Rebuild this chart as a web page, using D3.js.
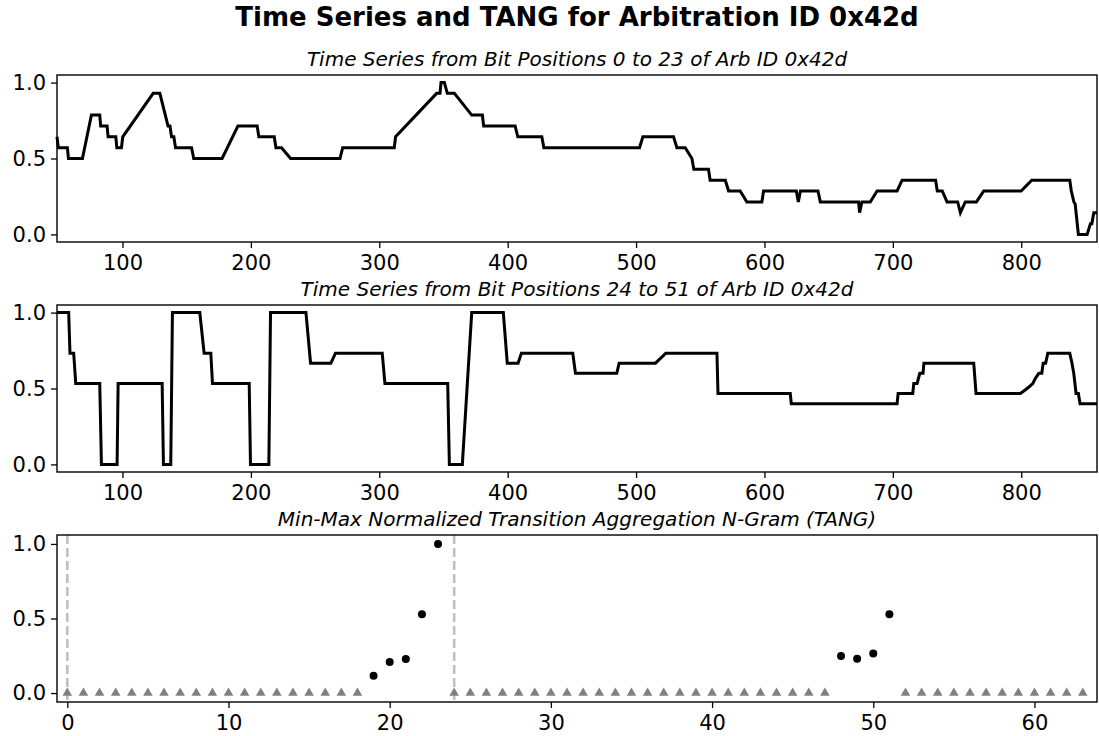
<!DOCTYPE html>
<html>
<head>
<meta charset="utf-8">
<script src="https://cdn.jsdelivr.net/npm/d3@7"></script>
<style>
  body { margin: 0; background: #fff; }
  text { font-family: "DejaVu Sans", sans-serif; fill: #000; }
</style>
</head>
<body>
<div id="chart"></div>
<script>
const width = 1099;
const height = 736;

// Time series, bits 0..23 (breakpoints)
const seriesA = [
  [49, 0.643], [50, 0.571], [57.1, 0.571], [57.9, 0.5], [68.8, 0.5], [75.8, 0.786], [82.3, 0.786],
  [83, 0.714], [88, 0.714], [88.8, 0.643], [94.8, 0.643], [95.6, 0.571], [99.2, 0.571], [100.2, 0.643],
  [123.9, 0.929], [129.1, 0.929], [135.5, 0.714], [137, 0.714], [138.2, 0.643], [140, 0.643], [141.3, 0.571],
  [153.8, 0.571], [155.5, 0.5], [177.6, 0.5], [189.9, 0.714], [204.9, 0.714], [206.2, 0.643], [218.2, 0.643],
  [219.5, 0.571], [223.9, 0.571], [230.9, 0.5], [269.4, 0.5], [271.5, 0.571], [311.7, 0.571], [312.7, 0.643],
  [344.7, 0.929], [347.3, 0.929], [348.1, 1.0], [350.7, 1.0], [353, 0.929], [358.5, 0.929], [372, 0.786],
  [380.3, 0.786], [381.3, 0.714], [405.8, 0.714], [407.9, 0.643], [426.6, 0.643], [428.2, 0.571],
  [502.7, 0.571], [505.3, 0.643], [529.2, 0.643], [531.8, 0.571], [538.3, 0.571], [543.5, 0.5], [545, 0.429],
  [556.4, 0.429], [557.7, 0.357], [569.5, 0.357], [572.1, 0.286], [581.1, 0.286], [586.3, 0.214], [598, 0.214],
  [599.3, 0.286], [624.8, 0.286], [626.4, 0.214], [628, 0.286], [641.7, 0.286], [643.5, 0.214], [673.3, 0.214],
  [674.1, 0.143], [675.9, 0.214], [682.4, 0.214], [687.7, 0.286], [703.3, 0.286], [707.2, 0.357], [733.3, 0.357],
  [734.6, 0.286], [738.5, 0.286], [742.2, 0.214], [750.5, 0.214], [752.6, 0.143], [756.4, 0.214], [765.1, 0.214],
  [770.8, 0.286], [799.9, 0.286], [808.2, 0.357], [837.8, 0.357], [839, 0.286], [841, 0.214], [842, 0.2],
  [844.5, 0], [851.3, 0], [853.9, 0.071], [855, 0.071], [856.5, 0.143], [859, 0.143]
];

// Time series, bits 24..51
const seriesB = [
  [49, 1.0], [58.1, 1.0], [59.1, 0.733], [62, 0.733], [63.6, 0.533], [82.3, 0.533], [83.6, 0], [95.8, 0],
  [96.6, 0.533], [130.9, 0.533], [131.9, 0], [137.6, 0], [138.9, 1.0], [160.2, 1.0], [163.6, 0.733],
  [168.8, 0.733], [170.1, 0.533], [198.7, 0.533], [199.7, 0], [214, 0], [215.3, 1.0], [242.9, 1.0],
  [246.5, 0.667], [262.3, 0.667], [265.9, 0.733], [302.3, 0.733], [304.4, 0.533], [353.3, 0.533],
  [354.6, 0], [364.7, 0], [372, 1.0], [396.6, 1.0], [399.7, 0.667], [408.1, 0.667], [410.7, 0.733],
  [450.7, 0.733], [452.8, 0.6], [485, 0.6], [486.8, 0.667], [515.1, 0.667], [523.2, 0.733], [563, 0.733],
  [563.8, 0.467], [620.1, 0.467], [620.9, 0.4], [703.3, 0.4], [704.1, 0.467], [715.5, 0.467], [716.3, 0.533],
  [718.9, 0.533], [721, 0.6], [723.5, 0.6], [724.2, 0.667], [763, 0.667], [764.8, 0.467], [799.4, 0.467],
  [803, 0.49], [806, 0.51], [809, 0.533], [811, 0.567], [813.7, 0.6], [816, 0.6], [817.1, 0.667],
  [819, 0.667], [820.7, 0.733], [837.8, 0.733], [839.5, 0.667], [840.9, 0.6], [842.7, 0.467],
  [844.5, 0.467], [845.8, 0.4], [859, 0.4]
];

// TANG: non-zero entries (dots) and zero entries (triangles)
const tangDotIdx = [19, 20, 21, 22, 23, 48, 49, 50, 51];
const tangDotVal = [0.116, 0.208, 0.228, 0.528, 1.0, 0.248, 0.23, 0.266, 0.528];
const tangZeroIdx = d3.range(0, 19).concat(d3.range(24, 48), d3.range(52, 64));
const boundaries = [0, 24];

const tsTicks = [100, 200, 300, 400, 500, 600, 700, 800];
const tangTicks = [0, 10, 20, 30, 40, 50, 60];
const yTicks = [0, 0.5, 1.0];

const titles = [
  "Time Series from Bit Positions 0 to 23 of Arb ID 0x42d",
  "Time Series from Bit Positions 24 to 51 of Arb ID 0x42d",
  "Min-Max Normalized Transition Aggregation N-Gram (TANG)"
];

const left = 57, right = 1097, panelH = 167;
const panelTops = [75, 305, 535];

const svg = d3.select("#chart")
    .append("svg")
    .attr("width", width)
    .attr("height", height);

svg.append("rect").attr("width", width).attr("height", height).attr("fill", "#fff");

svg.append("text")
    .attr("x", (left + right) / 2)
    .attr("y", 26)
    .attr("text-anchor", "middle")
    .attr("font-size", 26)
    .attr("font-weight", "bold")
    .text("Time Series and TANG for Arbitration ID 0x42d");

function makePanel(i, xDomain, xTicks, yDomain) {
    const top = panelTops[i];
    const g = svg.append("g");
    const x = d3.scaleLinear().domain(xDomain).range([left, right]);
    const y = d3.scaleLinear().domain(yDomain).range([top + panelH, top]);

    const xAxis = g.append("g")
        .attr("transform", `translate(0,${top + panelH})`)
        .call(d3.axisBottom(x).tickValues(xTicks).tickSize(6).tickPadding(7).tickFormat(d3.format("d")));
    const yAxis = g.append("g")
        .attr("transform", `translate(${left},0)`)
        .call(d3.axisLeft(y).tickValues(yTicks).tickSize(6).tickPadding(5).tickFormat(d3.format(".1f")));
    [xAxis, yAxis].forEach(a => {
        a.select(".domain").remove();
        a.selectAll("line").attr("stroke", "#000").attr("stroke-width", 1.3);
        a.selectAll("text").attr("font-size", 21).attr("fill", "#000")
            .style("font-family", "'DejaVu Sans', sans-serif");
    });

    g.append("text")
        .attr("x", (left + right) / 2)
        .attr("y", top - 9)
        .attr("text-anchor", "middle")
        .attr("font-size", 20)
        .attr("font-style", "italic")
        .text(titles[i]);

    return { g, x, y, top };
}

function frame(p) {
    p.g.append("rect")
        .attr("x", left).attr("y", p.top)
        .attr("width", right - left).attr("height", panelH)
        .attr("fill", "none")
        .attr("stroke", "#000")
        .attr("stroke-width", 1.4);
}

[seriesA, seriesB].forEach((data, i) => {
    const p = makePanel(i, [49, 859], tsTicks, [-0.05, 1.05]);
    const line = d3.line().x(d => p.x(d[0])).y(d => p.y(d[1]));
    p.g.append("path")
        .datum(data)
        .attr("d", line)
        .attr("fill", "none")
        .attr("stroke", "#000")
        .attr("stroke-width", 3)
        .attr("stroke-linejoin", "miter");
    frame(p);
});

// TANG panel
const pt = makePanel(2, [-0.64, 63.88], tangTicks, [-0.06, 1.06]);

pt.g.selectAll(".boundary")
    .data(boundaries)
    .enter()
    .append("line")
    .attr("class", "boundary")
    .attr("x1", d => pt.x(d)).attr("x2", d => pt.x(d))
    .attr("y1", pt.top).attr("y2", pt.top + panelH)
    .attr("stroke", "#c0c0c0")
    .attr("stroke-width", 2.6)
    .attr("stroke-dasharray", "9,4");

const tri = d3.symbol().type(d3.symbolTriangle).size(40);
pt.g.selectAll(".zero")
    .data(tangZeroIdx)
    .enter()
    .append("path")
    .attr("class", "zero")
    .attr("d", tri)
    .attr("transform", d => `translate(${pt.x(d)},${pt.y(0)})`)
    .attr("fill", "#808080");

pt.g.selectAll(".dot")
    .data(tangDotIdx)
    .enter()
    .append("circle")
    .attr("class", "dot")
    .attr("cx", d => pt.x(d))
    .attr("cy", (d, i) => pt.y(tangDotVal[i]))
    .attr("r", 4)
    .attr("fill", "#000");

frame(pt);
</script>
</body>
</html>
